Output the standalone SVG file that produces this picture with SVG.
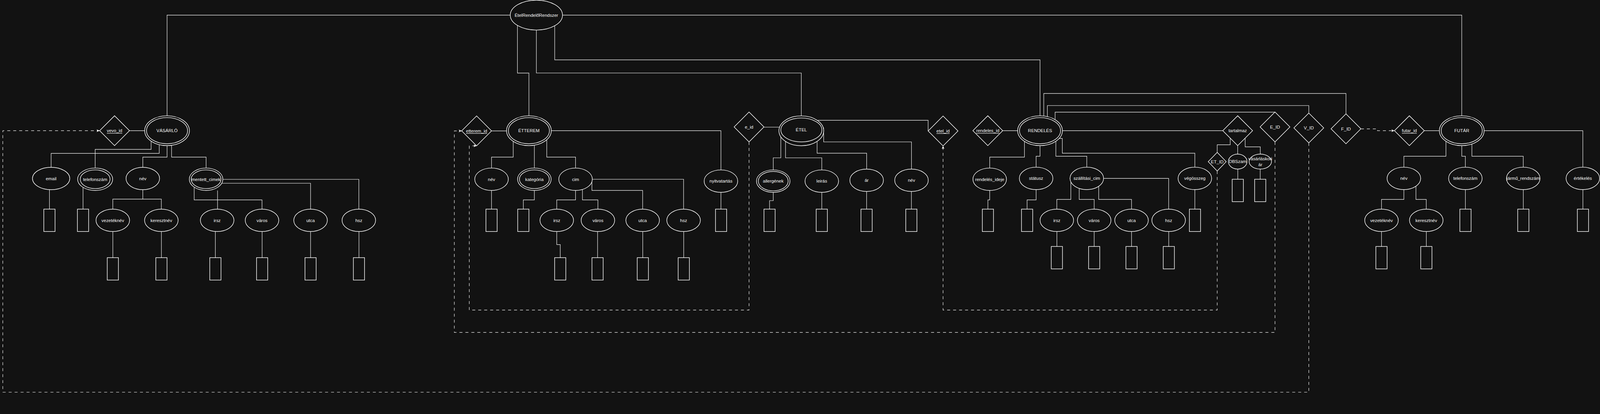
<svg xmlns="http://www.w3.org/2000/svg" width="4288" height="1059" viewBox="0 0 4288 1059" preserveAspectRatio="xMinYMin meet">
<style>
:root{width:100vw;height:100vh;background:#121212}
.e{fill:#121212;stroke:#fff;stroke-width:1.5}
.r{fill:#121212;stroke:#fff;stroke-width:1.5}
.c{fill:none;stroke:#fff;stroke-width:1.2}
.d{fill:none;stroke:#fff;stroke-width:1.2;stroke-dasharray:8 8}
.t{font-family:"Liberation Sans",Arial,Helvetica,sans-serif;font-size:12px;fill:#fff;text-anchor:middle;dominant-baseline:central}
.u{text-decoration:underline}
</style>
<defs>
<marker id="arr" markerUnits="userSpaceOnUse" markerWidth="10" markerHeight="9" refX="8" refY="3.5" orient="auto">
<path d="M0,0 L8,3.5 L0,7 L2,3.5 Z" fill="#fff"/>
</marker>
</defs>
<rect x="0" y="0" width="4288" height="1059" fill="#121212"/>
<g id="connectors">
<path class="c" d="M447.7,310 V40.5 H1367.5"/>
<path class="c" d="M1507.5,40.5 H3917.5 V310"/>
<path class="c" d="M1386.7,68 V195.7 H1417.5 V310"/>
<path class="c" d="M1437.5,80.5 V195.5 H2147.5 V310.3"/>
<path class="c" d="M1486.6,69 V160.3 H2787.3 V310"/>
<path class="c" d="M347,350 H387.7"/>
<path class="c" d="M405,378 V400 H255 V450"/>
<path class="c" d="M426.7,387.5 V410.7 H137 V448"/>
<path class="c" d="M447.7,390 V420.7 H382.7 V448"/>
<path class="c" d="M459.8,389.5 V420.7 H552.3 V450"/>
<path class="c" d="M132.5,507.5 V560"/>
<path class="c" d="M222.5,500 V560"/>
<path class="c" d="M382.7,508 V533.3 H302.3 V560"/>
<path class="c" d="M382.7,533.3 H432.4 V560"/>
<path class="c" d="M597,480.3 H961.7 V560"/>
<path class="c" d="M594.3,490.7 H832.3 V560"/>
<path class="c" d="M520.4,501 V535.3 H702.2 V560"/>
<path class="c" d="M583,510 V560"/>
<path class="c" d="M302.4,620 V690"/>
<path class="c" d="M432.6,620 V690"/>
<path class="c" d="M577.2,619.5 V690"/>
<path class="c" d="M702.5,620 V690"/>
<path class="c" d="M832.3,620 V690"/>
<path class="c" d="M962,620 V690"/>
<path class="c" d="M1317.3,350.5 H1357.5"/>
<path class="c" d="M1375.4,378.5 V420.7 H1317.3 V450"/>
<path class="c" d="M1432.1,388.8 V450"/>
<path class="c" d="M1465.3,374.2 V420.7 H1542.5 V450"/>
<path class="c" d="M1477.5,350 H1932.1 V455"/>
<path class="c" d="M1317.3,510 V560"/>
<path class="c" d="M1432.1,510 V535.3 H1402.5 V560"/>
<path class="c" d="M1932.1,515 V560"/>
<path class="c" d="M1542.5,510 V535.3 H1492.1 V560"/>
<path class="c" d="M1561,507.4 V535.3 H1602.4 V560"/>
<path class="c" d="M1586.4,486.7 V510 H1722.3 V560"/>
<path class="c" d="M1587.5,480 H1832 V560"/>
<path class="c" d="M1492.1,620 V655 H1501.5 V690"/>
<path class="c" d="M1601.5,620 V690"/>
<path class="c" d="M1722.6,620 V690"/>
<path class="c" d="M1832.4,620 V690"/>
<path class="c" d="M2047.4,340.5 H2089.3"/>
<path class="c" d="M2092.6,366.5 V422.7 H2072.3 V455"/>
<path class="c" d="M2105.2,378.7 V422.7 H2202.4 V455"/>
<path class="c" d="M2189.8,379.3 V410.3 H2322.6 V452.7"/>
<path class="c" d="M2207.4,341.7 V380 H2442.8 V452.7"/>
<path class="c" d="M2191.8,322 H2487.4 V350.7"/>
<path class="c" d="M2072.3,515 V537.3 H2062.4 V560"/>
<path class="c" d="M2202.4,515 V560"/>
<path class="c" d="M2322.5,512.7 V560"/>
<path class="c" d="M2442.6,512.7 V560"/>
<path class="c" d="M2687.3,350 H2727.3"/>
<path class="c" d="M2745.5,378.7 V420.7 H2652.4 V450"/>
<path class="c" d="M2787.3,390 V418.3 H2776.8 V447.7"/>
<path class="c" d="M2829.7,378.3 V418.3 H2912.6 V447.7"/>
<path class="c" d="M2838.3,370.7 H2847 V410.3 H3202.2 V447.7"/>
<path class="c" d="M2847.3,350 H3277"/>
<path class="c" d="M2797.3,310.5 V250.3 H3607.2 V305"/>
<path class="c" d="M2807,312.2 V282.7 H3507.6 V302.7"/>
<path class="c" d="M2827.7,319.5 V300.3 H3417"/>
<path class="c" d="M2652.4,510 V535.3 H2647.6 V560"/>
<path class="c" d="M2776.8,507.7 V535.3 H2752.6 V560"/>
<path class="c" d="M3202.2,507.7 V560"/>
<path class="c" d="M2869.9,487.2 V534 H2832.3 V560"/>
<path class="c" d="M2892.2,504.4 V534 H2932.4 V560"/>
<path class="c" d="M2944.5,498.9 V534 H3032.5 V560"/>
<path class="c" d="M2957.6,477.7 H3132 V560"/>
<path class="c" d="M2832.4,620 V660"/>
<path class="c" d="M2932.4,620 V660"/>
<path class="c" d="M3032.5,620 V660"/>
<path class="c" d="M3132.2,620 V660"/>
<path class="c" d="M3297,370 V387.7 H3262.1 V408"/>
<path class="c" d="M3317,390 V412.7"/>
<path class="c" d="M3337,370 V393.3 H3377.6 V412.7"/>
<path class="c" d="M3317.3,452.7 V480"/>
<path class="c" d="M3377.4,452.7 V480"/>
<path class="c" d="M3817.1,350 H3857.5"/>
<path class="c" d="M3875.1,378.3 V418.3 H3762.4 V447.7"/>
<path class="c" d="M3917.6,390 V418.3 H3927.2 V447.7"/>
<path class="c" d="M3944.7,385.6 V418.3 H4082.3 V447.7"/>
<path class="c" d="M3977.5,350 H4242 V447.7"/>
<path class="c" d="M3762.4,507.7 V534 H3702.4 V560"/>
<path class="c" d="M3794.7,498.6 V534 H3822.4 V560"/>
<path class="c" d="M3927.3,507.7 V560"/>
<path class="c" d="M4082.4,507.7 V560"/>
<path class="c" d="M4242.2,507.7 V560"/>
<path class="c" d="M3702.4,620 V660"/>
<path class="c" d="M3822.6,620 V660"/>
<path class="d" d="M3507.6,382.7 V1050.3 H7.5 V350 H267" marker-end="url(#arr)"/>
<path class="d" d="M3417,380 V890.3 H1217.6 V350.5 H1237.3" marker-end="url(#arr)"/>
<path class="d" d="M2007.4,380 V830.3 H1257.7 V390.5 H1277.3" marker-end="url(#arr)"/>
<path class="d" d="M3262.1,458 V830.3 H2527.4 V390.7" marker-end="url(#arr)"/>
<path class="d" d="M3647.2,345 H3691.6 V350 H3737.1" marker-end="url(#arr)"/>
</g>
<g id="etelrendelorendszer">
<ellipse class="e" cx="1437.5" cy="40.5" rx="70" ry="40"/>
<text class="t" x="1437.5" y="40.5">ÉtelRendelőRendszer</text>
</g>
<g id="vasarlo">
<ellipse class="e" cx="447.7" cy="350" rx="60" ry="40"/>
<ellipse class="e" cx="447.7" cy="350" rx="55" ry="35"/>
<text class="t" x="447.7" y="350">VÁSÁRLÓ</text>
</g>
<g id="vevo_id">
<polygon class="e" points="267,350 307,310 347,350 307,390"/>
<text class="t u" x="307" y="350">vevo_id</text>
</g>
<g id="v_email">
<ellipse class="e" cx="137" cy="478" rx="50" ry="30"/>
<text class="t" x="137" y="478">email</text>
<rect class="r" x="117.5" y="560" width="30" height="60"/>
</g>
<g id="v_telefonszam">
<ellipse class="e" cx="255" cy="480" rx="47" ry="30"/>
<ellipse class="e" cx="255" cy="480" rx="40" ry="25"/>
<text class="t" x="255" y="480">telefonszám</text>
<rect class="r" x="207.5" y="560" width="30" height="60"/>
</g>
<g id="v_nev">
<ellipse class="e" cx="382.7" cy="478" rx="45" ry="30"/>
<text class="t" x="382.7" y="478">név</text>
</g>
<g id="v_vezeteknev">
<ellipse class="e" cx="302.3" cy="590" rx="45" ry="30"/>
<text class="t" x="302.3" y="590">vezetéknév</text>
<rect class="r" x="287.4" y="690" width="30" height="60"/>
</g>
<g id="v_keresztnev">
<ellipse class="e" cx="432.4" cy="590" rx="45" ry="30"/>
<text class="t" x="432.4" y="590">keresztnév</text>
<rect class="r" x="417.6" y="690" width="30" height="60"/>
</g>
<g id="v_mentett_cimek">
<ellipse class="e" cx="552.3" cy="480" rx="45" ry="30"/>
<ellipse class="e" cx="552.3" cy="480" rx="40" ry="25"/>
<text class="t" x="552.3" y="480">mentett_cimek</text>
</g>
<g id="v_irsz">
<ellipse class="e" cx="582" cy="590" rx="45" ry="30"/>
<text class="t" x="582" y="590">irsz</text>
<rect class="r" x="562.2" y="690" width="30" height="60"/>
</g>
<g id="v_varos">
<ellipse class="e" cx="702.2" cy="590" rx="45" ry="30"/>
<text class="t" x="702.2" y="590">város</text>
<rect class="r" x="687.5" y="690" width="30" height="60"/>
</g>
<g id="v_utca">
<ellipse class="e" cx="832.3" cy="590" rx="45" ry="30"/>
<text class="t" x="832.3" y="590">utca</text>
<rect class="r" x="817.3" y="690" width="30" height="60"/>
</g>
<g id="v_hsz">
<ellipse class="e" cx="961.7" cy="590" rx="45" ry="30"/>
<text class="t" x="961.7" y="590">hsz</text>
<rect class="r" x="947" y="690" width="30" height="60"/>
</g>
<g id="etterem">
<ellipse class="e" cx="1417.5" cy="350" rx="60" ry="40"/>
<ellipse class="e" cx="1417.5" cy="350" rx="55" ry="35"/>
<text class="t" x="1417.5" y="350">ÉTTEREM</text>
</g>
<g id="etterem_id">
<polygon class="e" points="1237.3,350.5 1277.3,310.5 1317.3,350.5 1277.3,390.5"/>
<text class="t u" x="1277.3" y="350.5">etterem_id</text>
</g>
<g id="et_nev">
<ellipse class="e" cx="1317.3" cy="480" rx="45" ry="30"/>
<text class="t" x="1317.3" y="480">név</text>
<rect class="r" x="1302.3" y="560" width="30" height="60"/>
</g>
<g id="et_kategoria">
<ellipse class="e" cx="1432.1" cy="480" rx="45" ry="30"/>
<ellipse class="e" cx="1432.1" cy="480" rx="40" ry="25"/>
<text class="t" x="1432.1" y="480">kategória</text>
<rect class="r" x="1387.5" y="560" width="30" height="60"/>
</g>
<g id="et_cim">
<ellipse class="e" cx="1542.5" cy="480" rx="45" ry="30"/>
<text class="t" x="1542.5" y="480">cim</text>
</g>
<g id="et_nyitvatartas">
<ellipse class="e" cx="1932.1" cy="485" rx="45" ry="30"/>
<text class="t" x="1932.1" y="485">nyitvatartás</text>
<rect class="r" x="1917.5" y="560" width="30" height="60"/>
</g>
<g id="et_irsz">
<ellipse class="e" cx="1492.1" cy="590" rx="45" ry="30"/>
<text class="t" x="1492.1" y="590">irsz</text>
<rect class="r" x="1486.4" y="690" width="30" height="60"/>
</g>
<g id="et_varos">
<ellipse class="e" cx="1602.4" cy="590" rx="45" ry="30"/>
<text class="t" x="1602.4" y="590">város</text>
<rect class="r" x="1586.5" y="690" width="30" height="60"/>
</g>
<g id="et_utca">
<ellipse class="e" cx="1722.3" cy="590" rx="45" ry="30"/>
<text class="t" x="1722.3" y="590">utca</text>
<rect class="r" x="1707.8" y="690" width="30" height="60"/>
</g>
<g id="et_hsz">
<ellipse class="e" cx="1832" cy="590" rx="45" ry="30"/>
<text class="t" x="1832" y="590">hsz</text>
<rect class="r" x="1817.5" y="690" width="30" height="60"/>
</g>
<g id="e_id">
<polygon class="e" points="1967.4,340 2007.4,300 2047.4,340 2007.4,380"/>
<text class="t" x="2007.4" y="340">e_id</text>
</g>
<g id="etel">
<ellipse class="e" cx="2147.5" cy="350.3" rx="60" ry="40"/>
<ellipse class="e" cx="2147.7" cy="348" rx="55" ry="32"/>
<text class="t" x="2147.5" y="348">ÉTEL</text>
</g>
<g id="etel_allergenek">
<ellipse class="e" cx="2072.3" cy="485" rx="45" ry="30"/>
<ellipse class="e" cx="2072.3" cy="485" rx="40" ry="26"/>
<text class="t" x="2072.3" y="485">allergének</text>
<rect class="r" x="2047.4" y="560" width="30" height="60"/>
</g>
<g id="etel_leiras">
<ellipse class="e" cx="2202.4" cy="485" rx="45" ry="30"/>
<text class="t" x="2202.4" y="485">leirás</text>
<rect class="r" x="2187.4" y="560" width="30" height="60"/>
</g>
<g id="etel_ar">
<ellipse class="e" cx="2322.6" cy="482.7" rx="45" ry="30"/>
<text class="t" x="2322.6" y="482.7">ár</text>
<rect class="r" x="2307.4" y="560" width="30" height="60"/>
</g>
<g id="etel_nev">
<ellipse class="e" cx="2442.8" cy="482.7" rx="45" ry="30"/>
<text class="t" x="2442.8" y="482.7">név</text>
<rect class="r" x="2427.4" y="560" width="30" height="60"/>
</g>
<g id="etel_id">
<polygon class="e" points="2487.4,350.7 2527.4,310.7 2567.4,350.7 2527.4,390.7"/>
<text class="t u" x="2527.4" y="350.7">etel_id</text>
</g>
<g id="rendeles_id">
<polygon class="e" points="2607.3,350 2647.3,310 2687.3,350 2647.3,390"/>
<text class="t u" x="2647.3" y="350">rendeles_id</text>
</g>
<g id="rendeles">
<ellipse class="e" cx="2787.3" cy="350" rx="60" ry="40"/>
<ellipse class="e" cx="2787.3" cy="350" rx="55" ry="35"/>
<text class="t" x="2787.3" y="350">RENDELÉS</text>
</g>
<g id="r_rendeles_ideje">
<ellipse class="e" cx="2652.4" cy="480" rx="45" ry="30"/>
<text class="t" x="2652.4" y="480">rendelés_ideje</text>
<rect class="r" x="2632.6" y="560" width="30" height="60"/>
</g>
<g id="r_statusz">
<ellipse class="e" cx="2776.8" cy="477.7" rx="45" ry="30"/>
<text class="t" x="2776.8" y="477.7">státusz</text>
<rect class="r" x="2737.6" y="560" width="30" height="60"/>
</g>
<g id="r_szallitasi_cim">
<ellipse class="e" cx="2912.6" cy="477.7" rx="45" ry="30"/>
<text class="t" x="2912.6" y="477.7">szállítási_cim</text>
</g>
<g id="r_vegosszeg">
<ellipse class="e" cx="3202.2" cy="477.7" rx="45" ry="30"/>
<text class="t" x="3202.2" y="477.7">végösszeg</text>
<rect class="r" x="3187.5" y="560" width="30" height="60"/>
</g>
<g id="r_irsz">
<ellipse class="e" cx="2832.3" cy="590" rx="45" ry="30"/>
<text class="t" x="2832.3" y="590">irsz</text>
<rect class="r" x="2817.4" y="660" width="30" height="60"/>
</g>
<g id="r_varos">
<ellipse class="e" cx="2932.4" cy="590" rx="45" ry="30"/>
<text class="t" x="2932.4" y="590">város</text>
<rect class="r" x="2917.4" y="660" width="30" height="60"/>
</g>
<g id="r_utca">
<ellipse class="e" cx="3032.5" cy="590" rx="45" ry="30"/>
<text class="t" x="3032.5" y="590">utca</text>
<rect class="r" x="3017.5" y="660" width="30" height="60"/>
</g>
<g id="r_hsz">
<ellipse class="e" cx="3132" cy="590" rx="45" ry="30"/>
<text class="t" x="3132" y="590">hsz</text>
<rect class="r" x="3117.4" y="660" width="30" height="60"/>
</g>
<g id="tartalmaz">
<polygon class="e" points="3277,350 3317,310 3357,350 3317,390"/>
<text class="t" x="3317" y="350">tartalmaz</text>
</g>
<g id="et_id">
<polygon class="e" points="3238,433 3262.1,408 3286.2,433 3262.1,458"/>
<text class="t" x="3262.1" y="433">ET_ID</text>
</g>
<g id="t_dbszam">
<ellipse class="e" cx="3317" cy="432.7" rx="25" ry="20"/>
<text class="t" x="3317" y="432.7">DBSzam</text>
<rect class="r" x="3302.3" y="480" width="30" height="60"/>
</g>
<g id="t_vasarlaskori_ar">
<ellipse class="e" cx="3377.6" cy="432.7" rx="30" ry="20"/>
<text class="t" x="3377.6" y="425">vásárláskori</text>
<text class="t" x="3377.6" y="441">ár</text>
<rect class="r" x="3362.4" y="480" width="30" height="60"/>
</g>
<g id="e_id_fk">
<polygon class="e" points="3377,340 3417,300 3457,340 3417,380"/>
<text class="t" x="3417" y="340">E_ID</text>
</g>
<g id="v_id_fk">
<polygon class="e" points="3467.6,342.7 3507.6,302.7 3547.6,342.7 3507.6,382.7"/>
<text class="t" x="3507.6" y="342.7">V_ID</text>
</g>
<g id="f_id_fk">
<polygon class="e" points="3567.2,345 3607.2,305 3647.2,345 3607.2,385"/>
<text class="t" x="3607.2" y="345">F_ID</text>
</g>
<g id="futar_id">
<polygon class="e" points="3737.1,350 3777.1,310 3817.1,350 3777.1,390"/>
<text class="t u" x="3777.1" y="350">futar_id</text>
</g>
<g id="futar">
<ellipse class="e" cx="3917.5" cy="350" rx="60" ry="40"/>
<ellipse class="e" cx="3917.5" cy="350" rx="55" ry="35"/>
<text class="t" x="3917.5" y="350">FUTÁR</text>
</g>
<g id="f_nev">
<ellipse class="e" cx="3762.4" cy="477.7" rx="45" ry="30"/>
<text class="t" x="3762.4" y="477.7">név</text>
</g>
<g id="f_telefonszam">
<ellipse class="e" cx="3927.2" cy="477.7" rx="45" ry="30"/>
<text class="t" x="3927.2" y="477.7">telefonszám</text>
<rect class="r" x="3912.5" y="560" width="30" height="60"/>
</g>
<g id="f_jarmu_rendszam">
<ellipse class="e" cx="4082.3" cy="477.7" rx="45" ry="30"/>
<text class="t" x="4082.3" y="477.7">jármű_rendszám</text>
<rect class="r" x="4067.5" y="560" width="30" height="60"/>
</g>
<g id="f_ertekeles">
<ellipse class="e" cx="4242" cy="477.7" rx="45" ry="30"/>
<text class="t" x="4242" y="477.7">értékelés</text>
<rect class="r" x="4227.3" y="560" width="30" height="60"/>
</g>
<g id="f_vezeteknev">
<ellipse class="e" cx="3702.4" cy="590" rx="45" ry="30"/>
<text class="t" x="3702.4" y="590">vezetéknév</text>
<rect class="r" x="3687.4" y="660" width="30" height="60"/>
</g>
<g id="f_keresztnev">
<ellipse class="e" cx="3822.4" cy="590" rx="45" ry="30"/>
<text class="t" x="3822.4" y="590">keresztnév</text>
<rect class="r" x="3807.6" y="660" width="30" height="60"/>
</g>
</svg>
